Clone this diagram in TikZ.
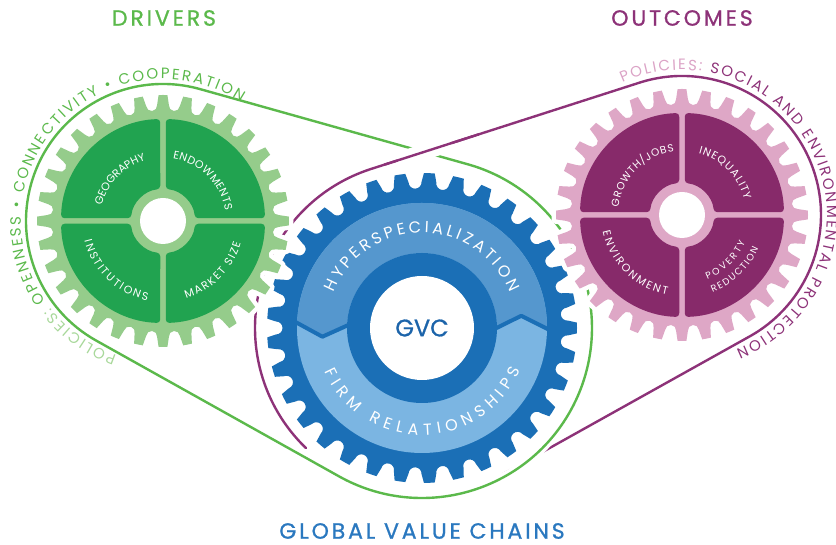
\documentclass[tikz,border=0pt]{standalone}
\usepackage{fontspec}
\setmainfont{Poppins}
\newfontfamily\headfont{Poppins}[LetterSpace=13,FakeBold=1]
\newfontfamily\gvcfont{Poppins}[FakeBold=0.8]
\usetikzlibrary{calc,decorations.text}

\definecolor{drvline}{HTML}{5BB94B}
\definecolor{drvpale}{HTML}{A8D89A}
\definecolor{drvrim}{HTML}{95CC8B}
\definecolor{drvcore}{HTML}{21A350}
\definecolor{outcline}{HTML}{8D3278}
\definecolor{outcpale}{HTML}{DBA3C6}
\definecolor{outcrim}{HTML}{DEA7C6}
\definecolor{outccore}{HTML}{872A6A}
\definecolor{gvcbody}{HTML}{1B6FB6}
\definecolor{gvcupper}{HTML}{5597CE}
\definecolor{gvclower}{HTML}{7BB5E2}
\definecolor{gvcword}{HTML}{1C64AA}
\definecolor{gvctitle}{HTML}{2A78BF}

\tikzset{heading/.style={font=\headfont\fontsize{22}{22}\selectfont, inner sep=0pt}}

% sprocket outline centred on the current origin
% #1 style, #2 teeth, #3 tip radius, #4 valley centre radius, #5 valley radius,
% #6 tip half-angle, #7 phase
\newcommand\sprocket[7]{%
  \pgfmathtruncatemacro\sprlast{#2-1}%
  \pgfmathsetmacro\sprpitch{360/#2}%
  \path[#1] ({#7-#6}:#3)
    \foreach \k [evaluate=\k as \sprtip using #7+\k*\sprpitch,
                 evaluate=\k as \sprval using #7+(\k+0.5)*\sprpitch] in {0,...,\sprlast}{
      arc[start angle=\sprtip-#6, end angle=\sprtip+#6, radius=#3]
      -- ($({\sprval}:#4)+({\sprval-90}:#5)$)
      arc[start angle=\sprval-90, end angle=\sprval-270, radius=#5]
      -- ({\sprtip+\sprpitch-#6}:#3)
    } -- cycle;
}

% four rounded quarter segments around a hub
\newcommand\quadrants[1]{%
  \foreach \q in {0,90,180,270}{%
    \fill[#1, rotate=\q, rounded corners=3.5pt]
      (88.45:102) arc[start angle=88.45, end angle=1.55, radius=102]
      -- (4.93:32) arc[start angle=4.93, end angle=85.07, radius=32] -- cycle;
  }%
}

% text set along an arc: colour, size, radius, from, to, text
\newcommand\arclabel[6]{%
  \path[decorate, decoration={text along path, text align=fit to path, text color=#1,
      text={|\fontsize{#2}{#2}\selectfont|#6}}]
    ({#4}:#3) arc[start angle=#4, end angle=#5, radius=#3];
}

\begin{document}
\begin{tikzpicture}[x=1pt, y=1pt, line cap=round]
\useasboundingbox (0,0) rectangle (836,545);

\coordinate (c1) at (163,324);
\coordinate (c2) at (422,217);
\coordinate (c3) at (682,330);

% outcomes chain
\draw[outcline, line width=2.4pt]
  ($(c2)+(226:167)$) arc[start angle=226, end angle=107.82, radius=167]
  -- ($(c3)+(107.82:139)$) arc[start angle=107.82, end angle=-60.84, radius=139]
  -- ($(c2)+(-60.84:167)$);

% drivers chain
\draw[drvline, line width=2.4pt, preaction={draw=white, line width=9pt}]
  ($(c1)+(74.32:137)$) arc[start angle=74.32, end angle=240.8, radius=137]
  -- ($(c2)+(240.8:170)$) arc[start angle=240.8, end angle=434.32, radius=170] -- cycle;

% outcomes chain passes over the drivers chain at the top
\coordinate (pa) at ($(c2)+(107.82:167)$);
\coordinate (pb) at ($(c3)+(107.82:139)$);
\draw[white, line width=16pt, line cap=butt] ($(pa)!0.1!(pb)$) -- ($(pa)!0.3!(pb)$);
\draw[outcline, line width=2.4pt] ($(pa)!0.05!(pb)$) -- ($(pa)!0.4!(pb)$);

% chain captions
\path[decorate, decoration={text along path, text align=fit to path,
    text={|\fontsize{15}{15}\selectfont\color{drvpale}|POLICIES: |\fontsize{15}{15}\selectfont\color{drvline}|OPENNESS • CONNECTIVITY • COOPERATION}}]
  ($(c1)+(251:142)$) arc[start angle=251, end angle=56.7, radius=142];
\path[decorate, decoration={text along path, text align=fit to path,
    text={|\fontsize{15}{15}\selectfont\color{outcpale}|POLICIES: |\fontsize{15}{15}\selectfont\color{outcline}|SOCIAL AND ENVIRONMENTAL PROTECTION}}]
  ($(c3)+(114.3:145)$) arc[start angle=114.3, end angle=-68.2, radius=145];

% GVC gear
\begin{scope}[shift={(c2)}]
  \sprocket{fill=gvcbody, preaction={draw=white, line width=9pt, line join=round}}{33}{155}{146}{6.5}{2.0}{0}
  \fill[gvclower] (0,0) circle[radius=125];
  \fill[gvcupper] (-1:125) arc[start angle=-1, end angle=177, radius=125]
    -- (185:100) -- (177:75) arc[start angle=177, end angle=-1, radius=75]
    -- (7:100) -- cycle;
  \draw[gvcbody, line width=4pt, line join=round] (177:128) -- (185:100) -- (177:72);
  \draw[gvcbody, line width=4pt, line join=round] (-1:128) -- (7:100) -- (-1:72);
  \fill[gvcbody] (0,0) circle[radius=75];
  \fill[white] (0,0) circle[radius=52];
  \arclabel{white}{16}{95}{158}{22}{HYPERSPECIALIZATION}
  \arclabel{white}{16}{107}{204}{337}{FIRM RELATIONSHIPS}
\end{scope}
\node[font=\gvcfont\fontsize{24}{24}\selectfont, text=gvcword] (gvc) at (c2) {GVC};

% drivers gear
\begin{scope}[shift={(c1)}]
  \sprocket{fill=drvrim, preaction={draw=white, line width=9pt, line join=round}}{32}{126}{116}{5.5}{2.0}{0}
  \quadrants{drvcore}
  \fill[white] (0,0) circle[radius=23];
  \arclabel{white}{11}{63}{166}{106}{GEOGRAPHY}
  \arclabel{white}{11}{63}{81}{9.5}{ENDOWMENTS}
  \arclabel{white}{11}{81}{194}{259}{INSTITUTIONS}
  \arclabel{white}{11}{81}{286.5}{344}{MARKET SIZE}
\end{scope}

% outcomes gear
\begin{scope}[shift={(c3)}]
  \sprocket{fill=outcrim, preaction={draw=white, line width=9pt, line join=round}}{32}{126}{116}{5.5}{2.0}{0}
  \quadrants{outccore}
  \fill[white] (0,0) circle[radius=23];
  \arclabel{white}{10.5}{64}{173}{97}{GROWTH/JOBS}
  \arclabel{white}{11}{64}{75}{13.5}{INEQUALITY}
  \arclabel{white}{11}{81}{192}{259.5}{ENVIRONMENT}
  \arclabel{white}{9.5}{69}{291.5}{336.5}{POVERTY}
  \arclabel{white}{9.5}{83.5}{291.5}{336.5}{REDUCTION}
\end{scope}

% headings
\node[heading, text=drvline] (drivers) at (164,527) {DRIVERS};
\node[heading, text=outcline] (outcomes) at (682,527) {OUTCOMES};
\node[heading, text=gvctitle] (gvcs) at (422,14) {GLOBAL VALUE CHAINS};
\end{tikzpicture}
\end{document}
